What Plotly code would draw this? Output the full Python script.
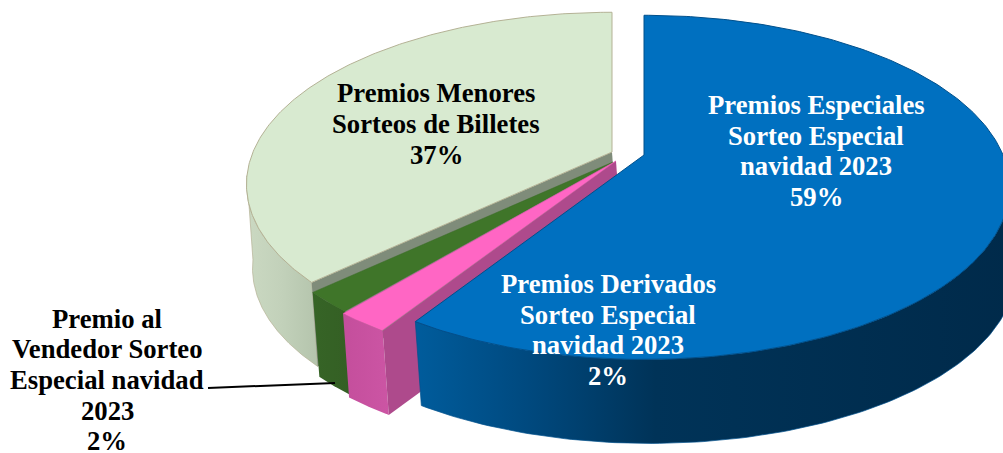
import numpy as np
import plotly.graph_objects as go

# Data
labels = [
    "Premios Especiales<br>Sorteo Especial<br>navidad 2023<br>59%",
    "Premios Derivados<br>Sorteo Especial<br>navidad 2023<br>2%",
    "Premio al<br>Vendedor Sorteo<br>Especial navidad<br>2023<br>2%",
    "Premios Menores<br>Sorteos de Billetes<br>37%",
]
values = [59, 2, 2, 37]

# Style per slice
top_colors = ["#0070C0", "#FF66C4", "#3F7529", "#D8EAD0"]
edge_colors = ["#00508C", "#D650A5", "#3A6C26", "#B4B295"]
side_scales = [
    [[0, "#005C9C"], [0.18, "#004A80"], [0.40, "#003358"], [1, "#002A4A"]],
    [[0, "#C44E9C"], [1, "#CC55A4"]],
    [[0, "#366426"], [1, "#345F24"]],
    [[0, "#CBD9C2"], [0.5, "#C2D1BA"], [1, "#B4C4AC"]],
]
radial_colors = ["#0070C0", "#AE4A8C", "#3A6C26", "#7F8C7A"]
label_colors = ["white", "white", "black", "black"]
label_xy = [(816, 151), (608, 330), (107, 380), (436, 124)]
LINE_PITCH = 30.6

# Projection of the exploded pie
apex = [(644, 155), (616, 161), (613, 162), (612, 152)]
scale = [1.0, 1.02, 1.0, 1.0]
RX, KY, P = 359, 166, 0.188
DEPTH = (6, 84)


def project(theta_deg, i):
    t = np.radians(theta_deg)
    u, v = np.sin(t), np.cos(t)
    w = 1 + P * v
    return apex[i][0] + scale[i] * RX * u / w, apex[i][1] - scale[i] * KY * v / w


edges = np.concatenate([[0], np.cumsum(values)]) / sum(values) * 360
fig = go.Figure()


def poly(xs, ys, color=None, line=None, lw=1, gradient=None):
    kw = dict(fillcolor=color) if gradient is None else dict(
        fillgradient=dict(type="horizontal", colorscale=gradient))
    fig.add_trace(go.Scatter(
        x=list(xs) + [xs[0]], y=list(ys) + [ys[0]], mode="lines", fill="toself",
        line=dict(color=line or "rgba(0,0,0,0)", width=lw),
        hoverinfo="skip", showlegend=False, **kw))


for i in [3, 2, 1, 0]:
    start, end = edges[i], edges[i + 1]
    # outer side wall, limited to its visible silhouette
    a = 98 if i == 0 else start
    b = 262 if i == 3 else end
    th = np.linspace(a, b, 120)
    x, y = project(th, i)
    sx = np.concatenate([x, x[::-1] + DEPTH[0]])
    sy = np.concatenate([y, y[::-1] + DEPTH[1]])
    poly(sx, sy, gradient=side_scales[i], line=edge_colors[i] if i in (0, 3) else None, lw=0.7)
    # radial wall
    if i in (1, 3):
        cx, cy = project(start, i)
        ax, ay = apex[i]
        poly([cx, cx + DEPTH[0], ax + DEPTH[0], ax], [cy, cy + DEPTH[1], ay + DEPTH[1], ay],
             color=radial_colors[i])
    # top face
    th = np.linspace(start, end, 240)
    x, y = project(th, i)
    poly(np.concatenate([[apex[i][0]], x]), np.concatenate([[apex[i][1]], y]),
         color=top_colors[i], line=edge_colors[i], lw=1 if i in (0, 3) else 0.5)

# Leader line
fig.add_shape(type="line", x0=208, y0=388, x1=335, y1=383, line=dict(color="black", width=2))

for text, (lx, ly), col in zip(labels, label_xy, label_colors):
    rows = text.split("<br>")
    for k, row in enumerate(rows):
        fig.add_annotation(x=lx, y=ly + (k - (len(rows) - 1) / 2) * LINE_PITCH, text=row,
                           showarrow=False, align="center",
                           font=dict(family="Liberation Serif", size=26.7, color=col, weight="bold"))

fig.update_layout(
    width=1003, height=453, margin=dict(l=0, r=0, t=0, b=0),
    paper_bgcolor="white", plot_bgcolor="white", hovermode=False,
    xaxis=dict(range=[0, 1003], visible=False, fixedrange=True),
    yaxis=dict(range=[453, 0], visible=False, fixedrange=True),
)
fig.write_html("out.html", config=dict(displayModeBar=False),
               post_script="document.body.style.margin='0';document.documentElement.style.overflow='hidden';")
